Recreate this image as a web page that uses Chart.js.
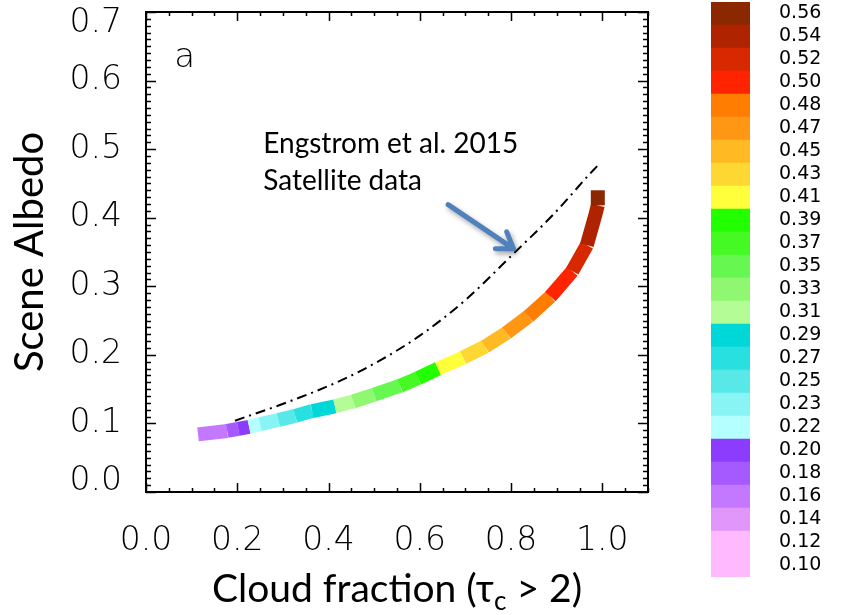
<!DOCTYPE html>
<html>
<head>
<meta charset="utf-8">
<script src="https://cdn.jsdelivr.net/npm/chart.js@4.4.1/dist/chart.umd.min.js"></script>
<style>
  body { margin: 0; background: #fff; }
  #wrap { position: relative; width: 857px; height: 615px; }
  #grafik { position: absolute; left: 0; top: 0; }
  #skala { position: absolute; left: 700px; top: 0; }
</style>
</head>
<body>
<div id="wrap">
  <canvas id="grafik" width="857" height="615"></canvas>
  <canvas id="skala" width="157" height="615"></canvas>
</div>
<script>
// tick labels of the main panel
const xTicks = [0.0, 0.2, 0.4, 0.6, 0.8, 1.0];
const yTicks = [0.0, 0.1, 0.2, 0.3, 0.4, 0.5, 0.6, 0.7];

// Engstrom et al. 2015 satellite curve (dash-dot)
const engX = [0.195, 0.31, 0.425, 0.513, 0.60, 0.70, 0.806, 0.893, 0.981, 0.996];
const engY = [0.104, 0.131, 0.162, 0.192, 0.228, 0.280, 0.348, 0.405, 0.470, 0.480];

// model band, the colour value is for the piece starting at each point
const bandX = [0.114, 0.178, 0.202, 0.226, 0.250, 0.290, 0.327, 0.364, 0.414, 0.454, 0.500, 0.557,
               0.596, 0.640, 0.695, 0.743, 0.790, 0.838, 0.886, 0.934, 0.966, 0.985, 0.990, 0.990];
const bandY = [0.084, 0.089, 0.092, 0.095, 0.099, 0.105, 0.111, 0.118, 0.125, 0.132, 0.142, 0.155,
               0.166, 0.180, 0.196, 0.212, 0.232, 0.256, 0.285, 0.322, 0.360, 0.405, 0.418, 0.440];
const bandVal = [0.16, 0.18, 0.20, 0.22, 0.23, 0.25, 0.27, 0.29, 0.31, 0.33, 0.35, 0.37,
                 0.39, 0.41, 0.43, 0.45, 0.47, 0.48, 0.50, 0.52, 0.54, 0.54, 0.56, 0.56];

// colour bar, bottom to top
const cbLevels = ['0.10', '0.12', '0.14', '0.16', '0.18', '0.20', '0.22', '0.23', '0.25', '0.27',
                  '0.29', '0.31', '0.33', '0.35', '0.37', '0.39', '0.41', '0.43', '0.45', '0.47',
                  '0.48', '0.50', '0.52', '0.54', '0.56'];
const cbColors = ['#ffb9ff', '#ffb9ff', '#e196fa', '#c378ff', '#a55aff', '#8c3cff', '#b4ffff', '#88f4f4',
                  '#58e8e8', '#28e0e0', '#00d8d8', '#b4fc96', '#90f870', '#66f850', '#44fa22', '#22ff00',
                  '#ffff3c', '#ffd732', '#ffb923', '#ff9614', '#ff7d00', '#ff2300', '#d72800', '#af2300',
                  '#8c2800'];

function warnaUntuk(v) {
    const i = cbLevels.findIndex(l => Math.abs(parseFloat(l) - v) < 0.001);
    return cbColors[i < 0 ? 0 : i];
}

const fontAngka = 'DejaVu Sans';
const fontJudul = 'Lato, "Open Sans", sans-serif';

// frame with inward ticks on all four sides
const bingkai = {
    id: 'bingkai',
    afterDraw(chart) {
        const {ctx, chartArea: a, scales: {x, y}} = chart;
        ctx.save();
        ctx.strokeStyle = '#000';
        ctx.lineWidth = 2;
        ctx.strokeRect(a.left, a.top, a.right - a.left, a.bottom - a.top);
        ctx.lineWidth = 1.5;
        ctx.beginPath();
        for (let k = 0; k <= 22; k++) {
            const px = Math.round(x.getPixelForValue(k * 0.05)) + 0.5;
            const len = (k % 4 === 0) ? 9 : 4;
            ctx.moveTo(px, a.bottom); ctx.lineTo(px, a.bottom - len);
            ctx.moveTo(px, a.top); ctx.lineTo(px, a.top + len);
        }
        for (let k = 0; k <= 70; k++) {
            const py = Math.round(y.getPixelForValue(k * 0.01)) + 0.5;
            const len = (k % 10 === 0) ? 10 : 5;
            ctx.moveTo(a.left, py); ctx.lineTo(a.left + len, py);
            ctx.moveTo(a.right, py); ctx.lineTo(a.right - len, py);
        }
        ctx.stroke();
        ctx.restore();
    }
};

// panel letter, annotation, arrow and x title with subscript
const catatan = {
    id: 'catatan',
    afterDraw(chart) {
        const {ctx, chartArea: a, scales: {x, y}} = chart;
        ctx.save();
        ctx.fillStyle = '#000';
        ctx.textBaseline = 'alphabetic';

        ctx.font = '200 34px ' + fontAngka;
        ctx.fillText('a', x.getPixelForValue(0.062), y.getPixelForValue(0.62));

        ctx.font = '28px ' + fontJudul;
        const tx = x.getPixelForValue(0.257), ty = y.getPixelForValue(0.494);
        ctx.fillText('Engstrom et al. 2015', tx, ty);
        ctx.fillText('Satellite data', tx, ty + 37);

        // arrow
        const x1 = x.getPixelForValue(0.662), y1 = y.getPixelForValue(0.419);
        const x2 = x.getPixelForValue(0.805), y2 = y.getPixelForValue(0.355);
        const ang = Math.atan2(y2 - y1, x2 - x1);
        ctx.shadowColor = 'rgba(0,0,0,0.35)';
        ctx.shadowBlur = 5;
        ctx.shadowOffsetX = 2;
        ctx.shadowOffsetY = 3;
        ctx.strokeStyle = '#4f81bd';
        ctx.lineWidth = 5;
        ctx.lineCap = 'round';
        ctx.lineJoin = 'round';
        ctx.beginPath();
        ctx.moveTo(x1, y1);
        ctx.lineTo(x2, y2);
        ctx.moveTo(x2 - 18 * Math.cos(ang - 0.6), y2 - 18 * Math.sin(ang - 0.6));
        ctx.lineTo(x2, y2);
        ctx.lineTo(x2 - 18 * Math.cos(ang + 0.6), y2 - 18 * Math.sin(ang + 0.6));
        ctx.stroke();
        ctx.restore();

        // x axis title
        ctx.save();
        ctx.fillStyle = '#000';
        const besar = '39px ' + fontJudul, kecil = '26px ' + fontJudul;
        const p1 = 'Cloud fraction (\u03C4', p2 = 'c', p3 = ' > 2)';
        ctx.font = besar; const w1 = ctx.measureText(p1).width, w3 = ctx.measureText(p3).width;
        ctx.font = kecil; const w2 = ctx.measureText(p2).width;
        let cx = (a.left + a.right) / 2 - (w1 + w2 + w3) / 2;
        const by = chart.height - 13;
        ctx.font = besar; ctx.fillText(p1, cx, by); cx += w1;
        ctx.font = kecil; ctx.fillText(p2, cx, by + 8); cx += w2;
        ctx.font = besar; ctx.fillText(p3, cx, by);
        ctx.restore();
    }
};

// first and last y labels sit inside the frame, as in the original
const yTickFont = c => ({
    family: fontAngka, size: 33, weight: 200,
    lineHeight: (c.index === 0 || c.index === yTicks.length - 1) ? 0.67 : 1.2
});

const configGrafik = {
    type: 'line',
    data: {
        datasets: [{
            label: 'Model',
            data: bandX.map((v, i) => ({x: v, y: bandY[i]})),
            borderWidth: 14,
            borderCapStyle: 'butt',
            borderColor: warnaUntuk(bandVal[0]),
            segment: {
                borderColor: c => warnaUntuk(bandVal[c.p0DataIndex])
            },
            pointRadius: 0,
            tension: 0
        }, {
            label: 'Engstrom et al. 2015',
            data: engX.map((v, i) => ({x: v, y: engY[i]})),
            borderColor: '#000',
            borderWidth: 2,
            borderDash: [10, 5, 2, 5],
            cubicInterpolationMode: 'monotone',
            pointRadius: 0
        }]
    },
    options: {
        responsive: false,
        animation: false,
        layout: { padding: { left: 0, top: 12, right: 209, bottom: 0 } },
        plugins: { legend: { display: false }, tooltip: { enabled: false } },
        scales: {
            x: {
                type: 'linear',
                min: 0,
                max: 1.1,
                afterBuildTicks: s => { s.ticks = xTicks.map(v => ({value: v})); },
                afterFit: s => { s.height = 123; s.paddingLeft = 0; s.paddingRight = 0; },
                grid: { display: false },
                border: { display: false },
                ticks: {
                    color: '#000',
                    padding: 22,
                    maxRotation: 0,
                    font: { family: fontAngka, size: 33, weight: 200 },
                    callback: v => v.toFixed(1)
                }
            },
            y: {
                type: 'linear',
                min: 0,
                max: 0.7,
                afterBuildTicks: s => { s.ticks = yTicks.map(v => ({value: v})); },
                afterFit: s => { s.width = 146; s.paddingTop = 0; s.paddingBottom = 0; },
                grid: { display: false },
                border: { display: false },
                title: {
                    display: true,
                    text: 'Scene Albedo',
                    color: '#000',
                    padding: { top: 6, bottom: 0 },
                    font: { family: fontJudul, size: 40 }
                },
                ticks: {
                    color: '#000',
                    padding: 16,
                    font: yTickFont,
                    callback: (v, i) => {
                        const t = v.toFixed(1);
                        if (i === 0) return [t, ''];
                        if (i === yTicks.length - 1) return ['', t];
                        return t;
                    }
                }
            }
        }
    },
    plugins: [bingkai, catatan]
};

const configSkala = {
    type: 'bar',
    data: {
        labels: [''],
        datasets: cbLevels.map((l, i) => ({
            label: l,
            data: [1],
            backgroundColor: cbColors[i],
            borderWidth: 0,
            barPercentage: 1,
            categoryPercentage: 1
        }))
    },
    options: {
        responsive: false,
        animation: false,
        layout: { padding: { left: 11, top: 2, right: 0, bottom: 38 } },
        plugins: { legend: { display: false }, tooltip: { enabled: false } },
        scales: {
            x: { display: false, stacked: true },
            y: {
                stacked: true,
                position: 'right',
                min: 0,
                max: cbLevels.length,
                afterBuildTicks: s => { s.ticks = cbLevels.map((l, i) => ({value: i + 0.5})); },
                afterFit: s => { s.width = 107; s.paddingTop = 0; s.paddingBottom = 0; },
                grid: { display: false },
                border: { display: false },
                ticks: {
                    color: '#000',
                    padding: 21,
                    autoSkip: false,
                    font: { family: fontAngka, size: 19 },
                    callback: (v, i) => cbLevels[i]
                }
            }
        }
    }
};

var grafik = new Chart(document.getElementById('grafik'), configGrafik);
var skala = new Chart(document.getElementById('skala'), configSkala);
</script>
</body>
</html>
